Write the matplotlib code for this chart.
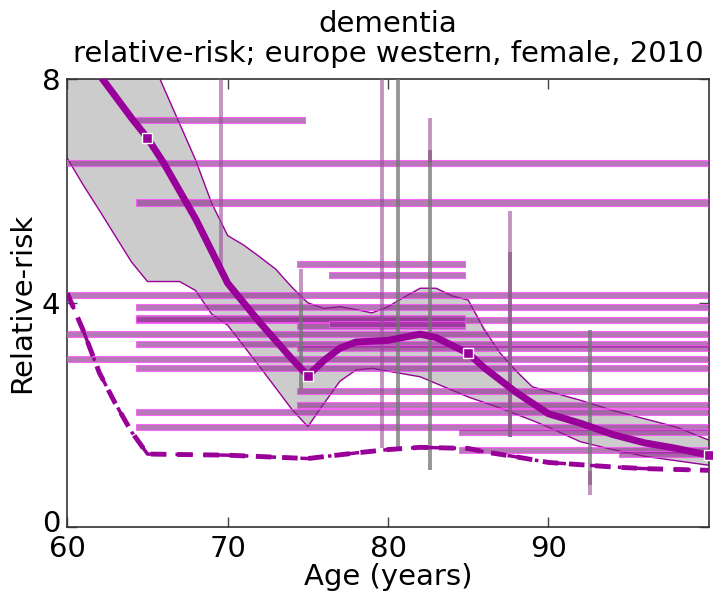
import matplotlib
matplotlib.use("Agg")
import matplotlib.pyplot as plt
import matplotlib.transforms as mtransforms
import numpy as np

# ---------------- data ----------------
fit_ages = [60, 62, 64, 65, 66, 68, 70, 72, 74, 75, 76, 77, 78, 80, 82, 83, 85, 86, 88, 90, 92, 94, 96, 98, 100]
fit_vals = [8.8, 8.07, 7.3, 6.94, 6.5, 5.5, 4.35, 3.65, 3.0, 2.70, 2.97, 3.19, 3.30, 3.33, 3.44, 3.38, 3.10, 2.84, 2.40, 2.02, 1.85, 1.65, 1.50, 1.40, 1.28]

knot_ages = [65, 75, 85, 100]
knot_vals = [6.94, 2.70, 3.10, 1.28]

upper_ages = [60, 65, 66, 67, 68, 69, 70, 71, 72, 73, 74, 75, 76, 77, 78, 79, 80, 81, 82, 83, 84, 85, 86, 87, 88, 89, 90, 92, 94, 96, 98, 100]
upper_vals = [12.0, 8.5, 7.85, 7.2, 6.55, 5.78, 5.2, 5.03, 4.82, 4.6, 4.28, 4.0, 3.9, 3.93, 3.88, 3.82, 3.93, 4.1, 4.26, 4.26, 4.12, 4.05, 3.52, 3.1, 2.78, 2.5, 2.42, 2.26, 2.08, 1.93, 1.78, 1.55]

lower_ages = [60, 61, 62, 64, 65, 67, 68, 69, 70, 72, 74, 75, 76, 77, 78, 79, 80, 82, 83, 85, 87, 89, 90, 92, 94, 96, 98, 100]
lower_vals = [6.58, 6.1, 5.65, 4.73, 4.38, 4.38, 4.22, 3.8, 3.6, 2.86, 2.1, 1.79, 2.2, 2.6, 2.8, 2.83, 2.78, 2.68, 2.56, 2.32, 2.12, 1.9, 1.78, 1.52, 1.38, 1.26, 1.18, 1.10]

prior_ages = [60, 61, 62, 63, 64, 65, 70, 75, 78, 80, 82, 85, 86, 88, 90, 92, 94, 96, 100]
prior_vals = [4.17, 3.5, 2.75, 2.2, 1.7, 1.30, 1.28, 1.22, 1.32, 1.38, 1.42, 1.40, 1.34, 1.25, 1.15, 1.11, 1.07, 1.04, 1.01]

# data bars: age start, age end, value
bar_start = [64.3, 60, 64.3, 74.35, 76.35, 60, 64.3, 64.3, 64.3, 60, 74.35, 76.35, 64.3, 74.35, 60, 64.3, 74.35, 74.35, 64.3, 64.3, 84.4, 84.4, 94.4]
bar_end   = [74.8, 100, 100, 84.77, 84.77, 100, 100, 100, 84.77, 100, 84.77, 84.77, 100, 100, 100, 100, 100, 100, 100, 100, 100, 100, 100]
bar_value = [7.26, 6.50, 5.79, 4.70, 4.49, 4.14, 3.92, 3.70, 3.72, 3.44, 3.58, 3.62, 3.26, 3.19, 2.99, 2.84, 2.42, 2.17, 2.05, 1.79, 1.69, 1.37, 1.30]

# uncertainty intervals: age, low, high
ci_age_m = [69.6, 74.6, 79.6, 82.6, 87.6, 92.6]
ci_low_m = [4.53, 4.0, 1.40, 6.5, 1.61, 0.57]
ci_high_m = [9.0, 4.61, 9.0, 7.30, 5.63, 1.0]

ci_age_g = [74.6, 80.6, 82.6, 87.6, 92.6]
ci_low_g = [2.47, 1.40, 1.01, 1.61, 0.75]
ci_high_g = [4.0, 9.0, 6.73, 4.9, 3.52]

title = "dementia\nrelative-risk; europe western, female, 2010"
xlabel = "Age (years)"
ylabel = "Relative-risk"
xticks = [60, 70, 80, 90]
yticks = [0, 4, 8]

# ---------------- plot ----------------
fig = plt.figure(figsize=(7.13, 5.92), dpi=100)
ax = fig.add_axes([0.0944, 0.110, 0.8996, 0.757])

purple = (0.6, 0.0, 0.6)

ax.fill_between(upper_ages, np.interp(upper_ages, lower_ages, lower_vals), upper_vals,
                color=(0.8, 0.8, 0.8), zorder=1, lw=0)
ax.fill_between(lower_ages, lower_vals, np.interp(lower_ages, upper_ages, upper_vals),
                color=(0.8, 0.8, 0.8), zorder=1, lw=0)
ax.plot(upper_ages, upper_vals, color=purple, lw=1, zorder=2)
ax.plot(lower_ages, lower_vals, color=purple, lw=1, zorder=2)

for s, e, v in zip(bar_start, bar_end, bar_value):
    ax.barh(v, e - s, left=s, height=0.11, color=(0.55, 0.15, 0.55, 0.62),
            edgecolor=(1.0, 0.3, 1.0, 0.75), linewidth=0.8, zorder=3)

ax.vlines(ci_age_g, ci_low_g, ci_high_g, color=(0.45, 0.45, 0.45, 0.75), lw=2.8, zorder=4)
ax.vlines(ci_age_m, ci_low_m, ci_high_m, color=(0.6, 0.3, 0.6, 0.6), lw=2.8, zorder=4)

ax.plot(fit_ages, fit_vals, color=purple, lw=5, zorder=5, solid_capstyle='butt')
ax.plot(knot_ages, knot_vals, 's', color=purple, mec='white', mew=1, ms=7, zorder=6, clip_on=False)

ax.plot(prior_ages, prior_vals, '--', color=purple, lw=3.5, dashes=(3.2, 2.2), zorder=5)
ax.plot(prior_ages, prior_vals, '-.', color=purple, lw=2.5, dashes=(5, 3, 1, 3), zorder=5)

ax.set_xlim(60, 100)
ax.set_ylim(0, 8)
ax.set_xticks(xticks)
ax.set_yticks(yticks)
ax.tick_params(direction='in', length=7, width=1, labelsize=21, top=True, right=True,
               color='#444444')
ax.tick_params(axis='y', pad=5)
ax.tick_params(axis='x', pad=6)
for sp in ax.spines.values():
    sp.set_color('#333333')
    sp.set_linewidth(1.2)

# nudge the "0" label up slightly so it does not collide with "60"
lbl0 = ax.get_yticklabels()[0]
lbl0.set_transform(lbl0.get_transform() + mtransforms.ScaledTranslation(0, 4 / 72, fig.dpi_scale_trans))

ax.set_xlabel(xlabel, fontsize=21, labelpad=0)
ax.set_ylabel(ylabel, fontsize=21, labelpad=4)
ax.set_title(title, fontsize=21, linespacing=1.1, pad=12)

fig.savefig("out.png", dpi=100)
